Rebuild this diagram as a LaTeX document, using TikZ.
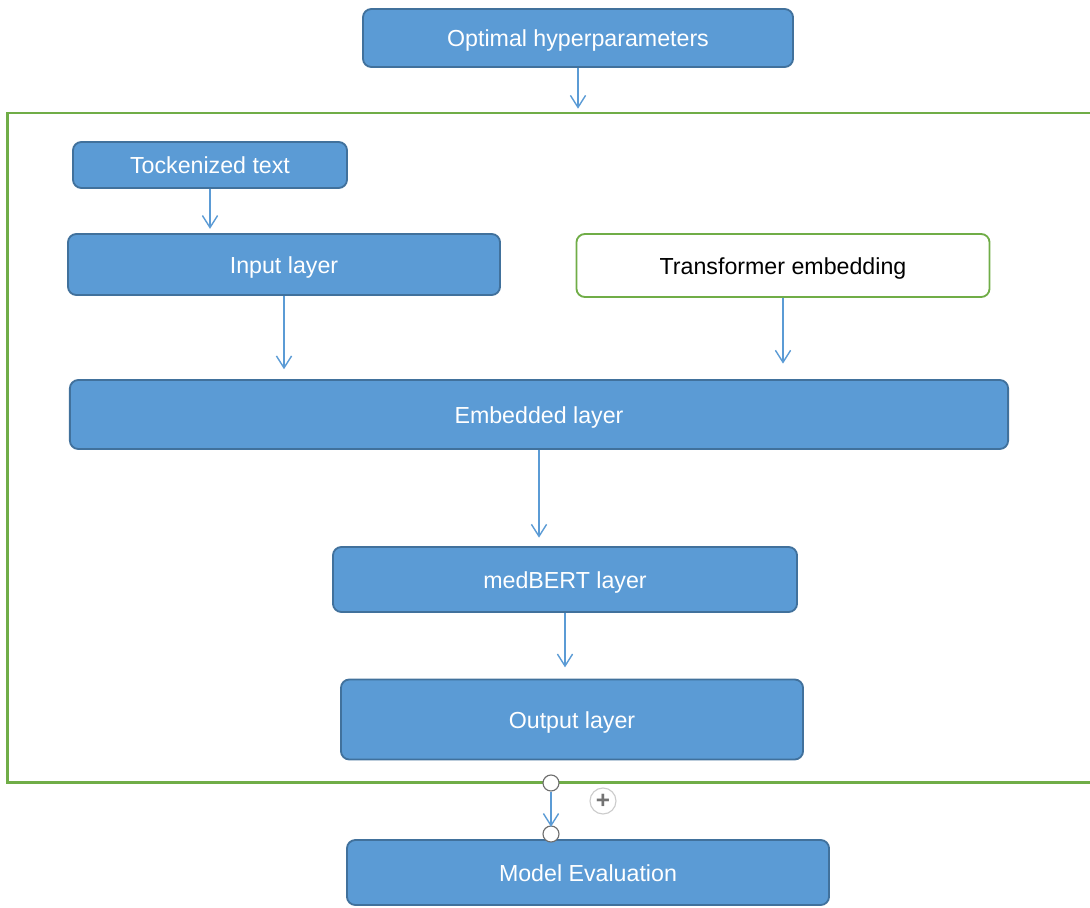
\documentclass[tikz,border=0pt]{standalone}
\usepackage{fontspec}
\setmainfont{Liberation Sans}
\usetikzlibrary{arrows.meta,positioning}
\definecolor{boxblue}{RGB}{91,155,213}
\definecolor{edgeblue}{RGB}{65,113,156}
\definecolor{framegreen}{RGB}{112,173,71}
\definecolor{handlegray}{RGB}{110,110,110}
\tikzset{
  block/.style={draw=edgeblue, line width=1.3pt, fill=boxblue,
                rounded corners=6pt, inner sep=4pt, align=center,
                text height=2.6ex, text depth=0.3ex,
                text=white, font=\fontsize{16.5}{20}\selectfont},
  blockwhite/.style={block, draw=framegreen, fill=white, text=black},
  frame/.style={draw=framegreen, line width=2pt, inner sep=0pt},
  flow/.style={-{Straight Barb[length=3mm,width=3.8mm]}, draw=boxblue,
               line width=1pt, shorten >=5pt},
  handle/.style={circle, draw=handlegray, fill=white, line width=0.8pt,
                 minimum size=4mm, inner sep=0pt},
  addsign/.style={circle, draw=black!20, line width=0.8pt, fill=white,
                  minimum size=6.5mm, inner sep=0pt, text=black!55,
                  font=\bfseries\LARGE},
}
\begin{document}
\begin{tikzpicture}[x=0.025cm,y=-0.025cm]
  \path[use as bounding box] (0,0) rectangle (1090,907);

  \node[block, minimum width=10.75cm, minimum height=1.45cm] (hyper) at (578,38)
    {Optimal hyperparameters};

  \node[frame, minimum width=27.3cm, minimum height=16.725cm] (frame) at (554,447.5) {};
  \draw[flow, shorten >=2pt] (hyper.south) -- (hyper.south |- frame.north);

  \node[block, minimum width=6.85cm, minimum height=1.15cm] (token) at (210,165)
    {Tockenized text};
  \node[block, minimum width=10.8cm, minimum height=1.525cm] (input) at (284,264.5)
    {Input layer};
  \node[blockwhite, minimum width=10.325cm, minimum height=1.575cm] (trans) at (783,265.5)
    {Transformer embedding};
  \draw[flow, shorten >=3pt] (token.south) -- (token.south |- input.north);

  \node[block, minimum width=23.45cm, minimum height=1.725cm] (embed) at (539,414.5)
    {Embedded layer};
  \draw[flow, shorten >=7pt] (input.south) -- (input.south |- embed.north);
  \draw[flow, shorten >=11pt] (trans.south) -- (trans.south |- embed.north);

  \node[block, minimum width=11.6cm, minimum height=1.625cm] (bert) at (565,579.5)
    {medBERT layer};
  \draw[flow, shorten >=6pt] (embed.south) -- (embed.south |- bert.north);

  \node[block, minimum width=11.55cm, minimum height=2cm] (output) at (572,719.5)
    {Output layer};
  \draw[flow, shorten >=8pt] (bert.south) -- (bert.south |- output.north);

  \node[block, minimum width=12.05cm, minimum height=1.625cm] (eval) at (588,872.5)
    {Model Evaluation};

  % connection handles on the frame edge
  \node[handle] (hA) at (551,783) {};
  \node[handle] (hB) at (551,834) {};
  \draw[flow, shorten >=-1pt] (hA) -- (hB);
  \node[addsign] (add) at (603,801) {+};
\end{tikzpicture}
\end{document}
